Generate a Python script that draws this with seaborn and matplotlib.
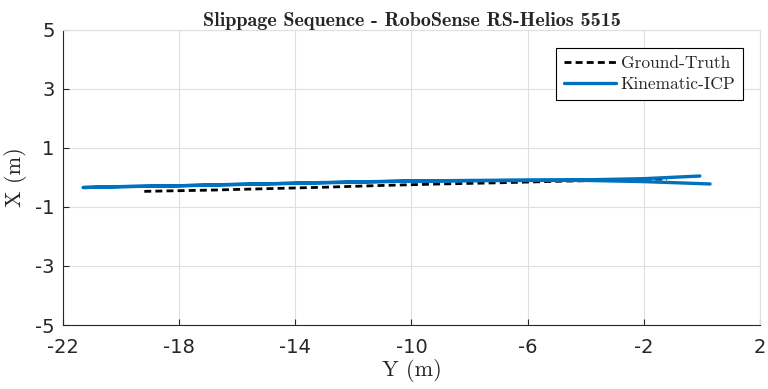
import numpy as np
import pandas as pd
import matplotlib
matplotlib.use("Agg")
import matplotlib.pyplot as plt
import seaborn as sns

# ground truth trajectory (Y, X) in metres
gt_y = [-19.2, -17.0, -15.0, -13.0, -11.0, -9.0, -7.0, -5.0, -3.0, -1.2]
gt_x = [-0.47, -0.43, -0.38, -0.33, -0.27, -0.22, -0.18, -0.13, -0.09, -0.05]

# kinematic-icp estimate (out and back)
icp_y = [-0.07, -2.0, -4.0, -6.0, -8.0, -10.0, -12.0, -14.0, -16.0, -18.0, -20.0, -21.3,
         -20.0, -18.0, -16.0, -14.0, -12.0, -10.0, -8.0, -6.0, -4.0, -2.0, 0.28]
icp_x = [0.05, -0.04, -0.08, -0.10, -0.11, -0.12, -0.15, -0.19, -0.24, -0.28, -0.31, -0.34,
         -0.31, -0.28, -0.23, -0.20, -0.16, -0.12, -0.10, -0.09, -0.10, -0.14, -0.22]

gt = pd.DataFrame({"Y": gt_y, "X": gt_x})
icp = pd.DataFrame({"Y": icp_y, "X": icp_x})

sns.set_style("whitegrid")
plt.rcParams["font.family"] = ["DejaVu Sans"]
plt.rcParams["axes.unicode_minus"] = False

fig = plt.figure(figsize=(7.68, 3.89), dpi=100)
ax = fig.add_axes([0.082, 0.1645, 0.9076, 0.7585])

sns.lineplot(data=gt, x="Y", y="X", sort=False, estimator=None, ax=ax,
             color="black", linestyle=(0, (2.5, 1.5)), linewidth=2.0, label="Ground-Truth")
sns.lineplot(data=icp, x="Y", y="X", sort=False, estimator=None, ax=ax,
             color="#0072BD", linewidth=2.4, label="Kinematic-ICP")

ax.set_xlim(-22, 2)
ax.set_ylim(-5, 5)
ax.set_xticks([-22, -18, -14, -10, -6, -2, 2])
ax.set_yticks([-5, -3, -1, 1, 3, 5])
ax.tick_params(labelsize=14, colors="#262626", direction="in", length=4, width=0.8,
               bottom=True, left=True)
ax.tick_params(axis="x", pad=9)
ax.tick_params(axis="y", pad=6)
ax.grid(True, color="#dfdfdf", linewidth=0.8)
for name, s in ax.spines.items():
    s.set_visible(True)
    s.set_linewidth(0.8)
    s.set_color("#262626" if name in ("left", "bottom") else "#dfdfdf")

ax.set_xlabel("Y (m)", fontsize=16, family="cmr10", labelpad=2)
ax.set_ylabel("X (m)", fontsize=16, family="cmr10", labelpad=6)
ax.set_title("Slippage Sequence - RoboSense RS-Helios 5515", fontsize=14.5,
             family="cmb10", pad=3)

leg = ax.legend(loc="upper right", bbox_to_anchor=(0.981, 0.95), fancybox=False,
                framealpha=1, edgecolor="black", prop={"family": "cmr10", "size": 12.5},
                handlelength=3.0, handletextpad=0.25, borderpad=0.45, labelspacing=0.3,
                borderaxespad=0.2)
leg.get_frame().set_linewidth(0.8)

fig.savefig("out.png", dpi=100)
